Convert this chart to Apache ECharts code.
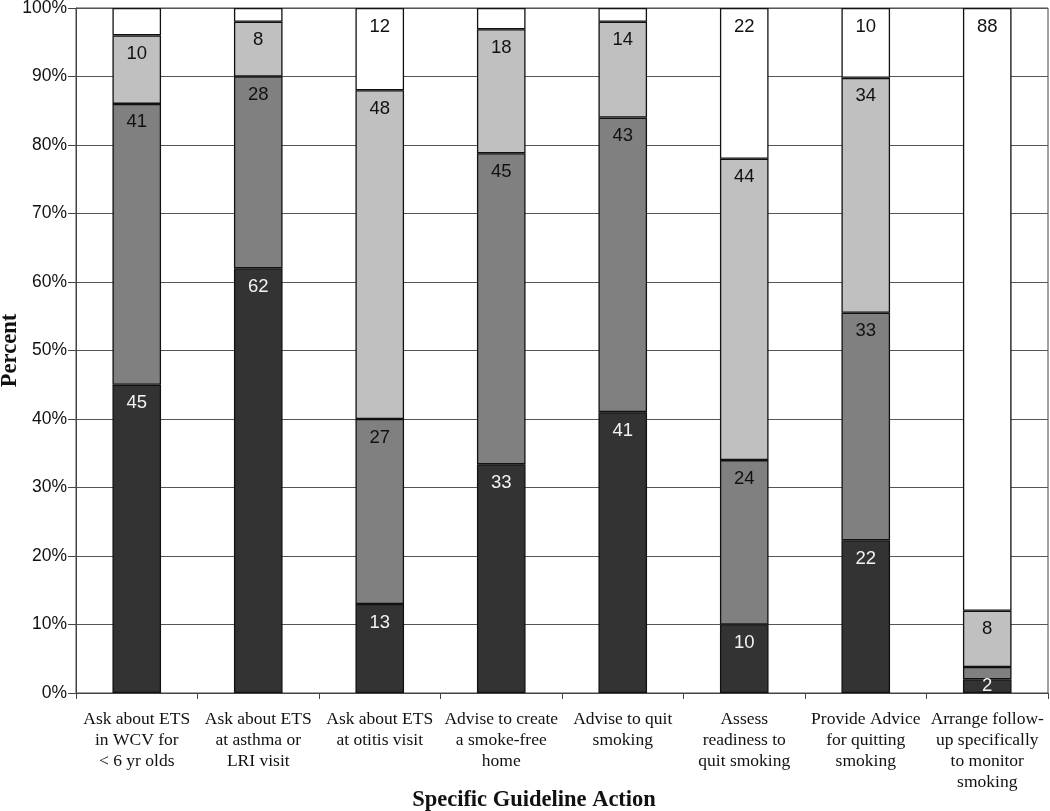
<!DOCTYPE html>
<html><head><meta charset="utf-8">
<script src="https://cdn.jsdelivr.net/npm/echarts@6/dist/echarts.min.js"></script>
<style>html,body{margin:0;padding:0;background:#fff}#c{width:1050px;height:811px}</style>
</head><body><div id="c"></div>
<script>
const categories = [
  "Ask about ETS\nin WCV for\n< 6 yr olds",
  "Ask about ETS\nat asthma or\nLRI visit",
  "Ask about ETS\nat otitis visit",
  "Advise to create\na smoke-free\nhome",
  "Advise to quit\nsmoking",
  "Assess\nreadiness to\nquit smoking",
  "Provide Advice\nfor quitting\nsmoking",
  "Arrange follow-\nup specifically\nto monitor\nsmoking"
];
// segment heights (percent) as drawn
const darkValues   = [45, 62, 13, 33.4, 41, 10, 22.3, 2];
const mediumValues = [41, 28, 27, 45.4, 43, 24, 33.2, 1.8];
const lightValues  = [10, 8, 48, 18.1, 14, 44, 34.3, 8.2];
const whiteValues  = [4, 2, 12, 3.1, 2, 22, 10.2, 88];
// printed segment labels (null = not printed)
const darkLabels   = [45, 62, 13, 33, 41, 10, 22, 2];
const mediumLabels = [41, 28, 27, 45, 43, 24, 33, null];
const lightLabels  = [10, 8, 48, 18, 14, 44, 34, 8];
const whiteLabels  = [null, null, 12, null, null, 22, 10, 88];
const yTicks = [0,10,20,30,40,50,60,70,80,90,100];

const colors = ['#333333', '#808080', '#c0c0c0', '#ffffff'];
const labelColors = ['#f2f2f2', '#111111', '#111111', '#111111'];
const seriesData = [darkValues, mediumValues, lightValues, whiteValues];
const seriesLabels = [darkLabels, mediumLabels, lightLabels, whiteLabels];

function makeData(vals, labels) {
  return vals.map((v, i) => {
    const lab = labels[i];
    const small = v < 5;
    return {
      value: v,
      label: {
        show: lab !== null,
        formatter: lab === null ? '' : String(lab),
        position: small ? 'inside' : 'insideTop',
        distance: small ? 0 : 9
      }
    };
  });
}

const chart = echarts.init(document.getElementById('c'), null, {renderer: 'canvas'});
chart.setOption({
  animation: false,
  backgroundColor: '#fff',
  grid: {left: 76, right: 2, top: 8, bottom: 118, containLabel: false, outerBoundsMode: 'none',
         show: true, borderColor: '#444', borderWidth: 1},
  xAxis: {
    type: 'category',
    data: categories,
    axisLine: {lineStyle: {color: '#444', width: 1}},
    axisTick: {show: true, length: 6, lineStyle: {color: '#444'}},
    axisLabel: {interval: 0, color: '#111', fontFamily: 'Liberation Serif', fontSize: 17.5, lineHeight: 21, margin: 16},
    name: 'Specific Guideline Action',
    nameLocation: 'middle',
    nameMoveOverlap: false,
    nameGap: 96,
    nameTextStyle: {fontFamily: 'Liberation Serif', fontWeight: 'bold', fontSize: 22.5, color: '#111', padding: [0, 56, 0, 0]}
  },
  yAxis: {
    type: 'value',
    min: 0, max: 100, interval: 10,
    axisLine: {show: true, lineStyle: {color: '#444'}},
    axisTick: {show: true, length: 8, lineStyle: {color: '#444'}},
    splitLine: {show: true, lineStyle: {color: '#555', width: 1}},
    axisLabel: {formatter: v => yTicks.includes(v) ? v + '%' : '', color: '#111', fontFamily: 'Liberation Sans', fontSize: 17.5, margin: 9},
    name: 'Percent',
    nameLocation: 'middle',
    nameMoveOverlap: false,
    nameGap: 54,
    nameRotate: 90,
    nameTextStyle: {fontFamily: 'Liberation Serif', fontWeight: 'bold', fontSize: 22.5, color: '#111'}
  },
  series: seriesData.map((vals, si) => ({
    type: 'bar',
    stack: 'total',
    barWidth: '40%',
    data: makeData(vals, seriesLabels[si]),
    itemStyle: {color: colors[si], borderColor: '#111', borderWidth: 1.3},
    label: {color: labelColors[si], fontFamily: 'Liberation Sans', fontSize: 18.5},
    z: 2
  }))
});
</script></body></html>
